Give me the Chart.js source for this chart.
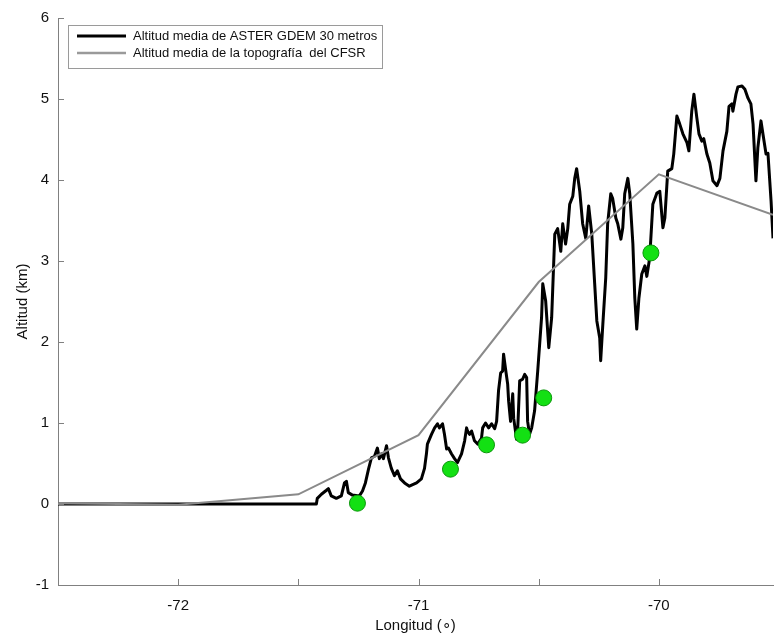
<!DOCTYPE html>
<html>
<head>
<meta charset="utf-8">
<script src="https://cdn.jsdelivr.net/npm/chart.js@4/dist/chart.umd.min.js"></script>
<style>
  html, body { margin: 0; padding: 0; background: #fff; }
  #wrap { width: 774px; height: 636px; }
</style>
</head>
<body>
<div id="wrap"><canvas id="perfil" width="774" height="636"></canvas></div>
<script>
// ASTER GDEM 30 m profile (longitude in degrees, altitude in km)
const asterLon = [
  -72.5, -71.425, -71.421, -71.404, -71.383, -71.375, -71.363, -71.342, -71.321, -71.308,
  -71.300, -71.292, -71.275, -71.246, -71.233, -71.221, -71.208, -71.196, -71.183, -71.171,
  -71.163, -71.154, -71.146, -71.133, -71.125, -71.113, -71.100, -71.088, -71.075, -71.058,
  -71.038, -71.008, -70.988, -70.975, -70.967, -70.963, -70.946, -70.933, -70.921, -70.913,
  -70.900, -70.892, -70.883, -70.875, -70.863, -70.850, -70.838, -70.821, -70.808, -70.800,
  -70.796, -70.788, -70.779, -70.767, -70.754, -70.738, -70.733, -70.721, -70.708, -70.696,
  -70.683, -70.675, -70.667, -70.658, -70.650, -70.646, -70.638, -70.629, -70.625, -70.617,
  -70.608, -70.604, -70.592, -70.588, -70.579, -70.567, -70.558, -70.550, -70.546, -70.538,
  -70.529, -70.517, -70.504, -70.488, -70.483, -70.471, -70.458, -70.446, -70.433, -70.421,
  -70.408, -70.400, -70.388, -70.379, -70.371, -70.358, -70.350, -70.342, -70.329, -70.317,
  -70.304, -70.292, -70.279, -70.267, -70.258, -70.246, -70.242, -70.233, -70.221, -70.213,
  -70.200, -70.192, -70.179, -70.171, -70.158, -70.150, -70.142, -70.129, -70.121, -70.108,
  -70.100, -70.092, -70.083, -70.071, -70.058, -70.050, -70.038, -70.025, -70.008, -69.996,
  -69.983, -69.975, -69.963, -69.946, -69.938, -69.925, -69.913, -69.900, -69.883, -69.875,
  -69.863, -69.854, -69.842, -69.833, -69.821, -69.813, -69.800, -69.788, -69.775, -69.758,
  -69.746, -69.733, -69.717, -69.708, -69.696, -69.692, -69.679, -69.671, -69.654, -69.642,
  -69.629, -69.617, -69.608, -69.596, -69.588, -69.575, -69.567, -69.554, -69.546, -69.533,
  -69.525
];
const asterAlt = [
  0.00, 0.00, 0.07, 0.12, 0.17, 0.19, 0.10, 0.07, 0.10, 0.26,
  0.28, 0.14, 0.11, 0.10, 0.16, 0.26, 0.43, 0.57, 0.59, 0.69,
  0.56, 0.62, 0.56, 0.72, 0.57, 0.44, 0.35, 0.41, 0.31, 0.26,
  0.22, 0.26, 0.31, 0.44, 0.62, 0.74, 0.86, 0.94, 0.99, 0.94,
  0.99, 0.86, 0.68, 0.69, 0.62, 0.56, 0.51, 0.62, 0.78, 0.94,
  0.90, 0.86, 0.90, 0.78, 0.74, 0.81, 0.94, 1.00, 0.94, 0.99,
  0.93, 1.02, 1.40, 1.62, 1.64, 1.85, 1.67, 1.48, 1.27, 1.02,
  1.36, 1.06, 0.80, 0.86, 1.52, 1.54, 1.60, 1.56, 1.02, 0.86,
  0.94, 1.15, 1.64, 2.30, 2.72, 2.51, 1.93, 2.30, 3.33, 3.40,
  3.12, 3.46, 3.21, 3.40, 3.70, 3.80, 4.02, 4.14, 3.86, 3.46,
  3.28, 3.68, 3.33, 2.72, 2.26, 2.05, 1.77, 2.22, 2.79, 3.46,
  3.83, 3.77, 3.53, 3.46, 3.27, 3.41, 3.83, 4.02, 3.83, 3.21,
  2.54, 2.16, 2.54, 2.84, 2.94, 2.81, 3.04, 3.70, 3.84, 3.86,
  3.41, 3.53, 4.11, 4.14, 4.32, 4.79, 4.69, 4.57, 4.46, 4.36,
  4.85, 5.06, 4.77, 4.57, 4.48, 4.51, 4.32, 4.21, 3.99, 3.93,
  4.02, 4.36, 4.60, 4.91, 4.94, 4.85, 5.06, 5.15, 5.16, 5.12,
  5.01, 4.94, 4.69, 3.99, 4.40, 4.73, 4.57, 4.32, 4.33, 3.74,
  3.28
];

// CFSR model topography
const cfsrLon = [-72.5, -72.0, -71.5, -71.0, -70.5, -70.0, -69.525];
const cfsrAlt = [0.01, -0.01, 0.12, 0.85, 2.74, 4.07, 3.57];

// marked sites
const siteLon = [-71.254, -70.867, -70.717, -70.567, -70.479, -70.033];
const siteAlt = [0.01, 0.43, 0.73, 0.85, 1.31, 3.10];

const xTickLabels = [-72, -71, -70];
const legendLabels = ['Altitud media de ASTER GDEM 30 metros', 'Altitud media de la topografía  del CFSR'];
const lineColors = ['#000000', '#8a8a8a'];

const toPoints = (xs, ys) => xs.map((x, i) => ({ x: x, y: ys[i] }));
const FONT = 'Liberation Sans, Arial, Helvetica, sans-serif';

// tick marks pointing into the plot, plus the boxed legend
const innerTicks = {
  id: 'innerTicks',
  afterDraw(chart) {
    const { ctx, chartArea: a, scales } = chart;
    ctx.save();
    ctx.strokeStyle = '#808080';
    ctx.lineWidth = 1;
    scales.x.ticks.forEach(t => {
      const px = Math.round(scales.x.getPixelForValue(t.value)) + 0.5;
      ctx.beginPath();
      ctx.moveTo(px, a.bottom);
      ctx.lineTo(px, a.bottom - 6);
      ctx.stroke();
    });
    scales.y.ticks.forEach(t => {
      const py = Math.round(scales.y.getPixelForValue(t.value)) + 0.5;
      ctx.beginPath();
      ctx.moveTo(a.left, py);
      ctx.lineTo(a.left + 6, py);
      ctx.stroke();
    });

    // legend box
    const bx = 68.5, by = 25.5, bw = 314, bh = 43;
    ctx.fillStyle = '#fff';
    ctx.fillRect(bx, by, bw, bh);
    ctx.strokeStyle = '#9a9a9a';
    ctx.strokeRect(bx, by, bw, bh);
    ctx.font = '13px ' + FONT;
    ctx.textBaseline = 'middle';
    legendLabels.forEach((label, i) => {
      const y = 36 + i * 17;
      ctx.strokeStyle = i === 0 ? lineColors[0] : '#9a9a9a';
      ctx.lineWidth = i === 0 ? 3 : 2.5;
      ctx.beginPath();
      ctx.moveTo(77, y);
      ctx.lineTo(126, y);
      ctx.stroke();
      ctx.fillStyle = '#111';
      ctx.fillText(label, 133, y);
    });
    ctx.restore();
  }
};

const ctx = document.getElementById('perfil').getContext('2d');
new Chart(ctx, {
  type: 'line',
  data: {
    datasets: [
      {
        type: 'scatter',
        data: toPoints(siteLon, siteAlt),
        pointRadius: 8,
        pointBackgroundColor: '#13e013',
        pointBorderColor: '#0a960a',
        pointBorderWidth: 1,
        order: 0
      },
      {
        data: toPoints(cfsrLon, cfsrAlt),
        borderColor: lineColors[1],
        borderWidth: 2,
        pointRadius: 0,
        tension: 0,
        order: 1
      },
      {
        data: toPoints(asterLon, asterAlt),
        borderColor: lineColors[0],
        borderWidth: 3,
        borderJoinStyle: 'round',
        pointRadius: 0,
        tension: 0,
        order: 2
      }
    ]
  },
  options: {
    responsive: false,
    animation: false,
    events: [],
    layout: { autoPadding: false, padding: { top: 18, right: 1, left: 0, bottom: 0 } },
    plugins: { legend: { display: false }, tooltip: { enabled: false } },
    scales: {
      x: {
        type: 'linear',
        min: -72.5,
        max: -69.525,
        afterFit: s => { s.height = 51; s.paddingLeft = 0; s.paddingRight = 0; },
        grid: { drawOnChartArea: false, drawTicks: false },
        border: { color: '#808080', width: 1 },
        ticks: {
          stepSize: 0.5,
          includeBounds: false,
          autoSkip: false,
          maxRotation: 0,
          padding: 12,
          color: '#111',
          font: { family: FONT, size: 15 },
          callback: v => xTickLabels.includes(v) ? String(v) : ''
        },
        title: {
          display: true,
          text: 'Longitud (∘)',
          color: '#111',
          font: { family: FONT, size: 15 },
          padding: { bottom: 1 }
        }
      },
      y: {
        min: -1,
        max: 6,
        afterFit: s => { s.width = 58; },
        grid: { drawOnChartArea: false, drawTicks: false },
        border: { color: '#808080', width: 1 },
        ticks: {
          stepSize: 1,
          padding: 9,
          color: '#111',
          font: { family: FONT, size: 15 }
        },
        title: {
          display: true,
          text: 'Altitud (km)',
          color: '#111',
          font: { family: FONT, size: 15 },
          padding: { top: 14 }
        }
      }
    }
  },
  plugins: [innerTicks]
});
</script>
</body>
</html>
